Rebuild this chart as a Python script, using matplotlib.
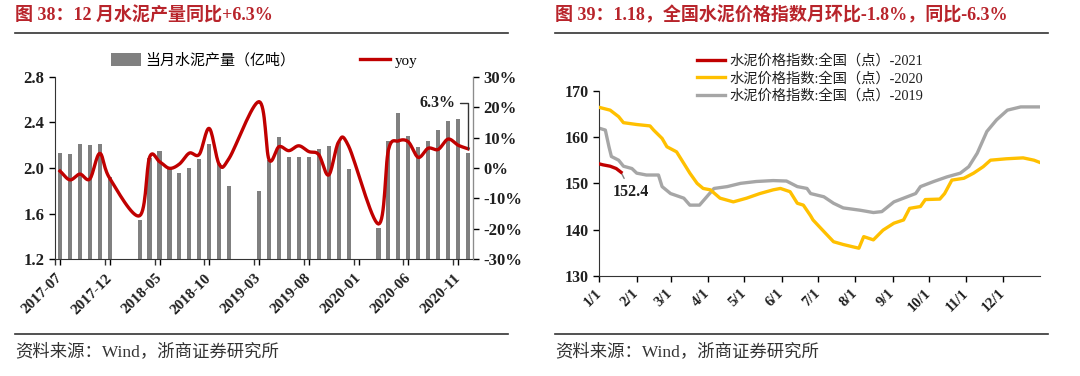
"""Cement output (monthly, yoy) and national cement price index, two-panel report chart."""

import matplotlib

matplotlib.use("Agg")
import matplotlib.pyplot as plt
import numpy as np
from matplotlib.lines import Line2D

SERIF_CJK = ["Liberation Serif", "Noto Sans CJK SC", "DejaVu Sans"]
plt.rcParams["font.family"] = SERIF_CJK

W, H = 1080, 376

# ---- left panel data: monthly cement output (亿吨) and yoy (%) ----
MONTHS = [
    "2017-07", "2017-08", "2017-09", "2017-10", "2017-11", "2017-12",
    "2018-01", "2018-02", "2018-03", "2018-04", "2018-05", "2018-06",
    "2018-07", "2018-08", "2018-09", "2018-10", "2018-11", "2018-12",
    "2019-01", "2019-02", "2019-03", "2019-04", "2019-05", "2019-06",
    "2019-07", "2019-08", "2019-09", "2019-10", "2019-11", "2019-12",
    "2020-01", "2020-02", "2020-03", "2020-04", "2020-05", "2020-06",
    "2020-07", "2020-08", "2020-09", "2020-10", "2020-11", "2020-12",
]
nan = float("nan")
OUTPUT = [
    2.13, 2.12, 2.21, 2.20, 2.21, 1.92,
    nan, nan, 1.54, 2.09, 2.15, 2.00,
    1.96, 2.00, 2.08, 2.21, 2.04, 1.84,
    nan, nan, 1.80, 2.07, 2.27, 2.10,
    2.10, 2.10, 2.17, 2.19, 2.23, 1.99,
    nan, nan, 1.47, 2.24, 2.48, 2.28,
    2.18, 2.24, 2.33, 2.41, 2.43, 2.13,
]
YOY = [
    -1.0, -3.9, -2.0, -3.6, 4.8, -3.4,
    nan, nan, -15.7, 3.5, 2.1, -0.1,
    1.3, 4.9, 4.5, 13.0, 1.2, 3.2,
    nan, nan, 21.8, 2.8, 7.0, 5.7,
    7.3, 5.4, 4.4, -2.3, 8.6, 7.2,
    nan, nan, -18.4, 5.9, 8.9, 8.6,
    3.5, 6.5, 6.1, 9.5, 7.5, 6.3,
]

# ---- right panel data: national cement price index (points) by day of year ----
DAYS_2021 = [0, 3, 9, 14, 18]
PRICE_2021 = [154.2, 154.0, 153.7, 153.2, 152.4]

DAYS_2020 = [0, 9, 16, 20, 31, 42, 45, 52, 56, 64, 70, 75, 81, 86, 92, 100, 111,
             122, 133, 144, 150, 158, 164, 169, 175, 177, 186, 194, 202, 210, 215,
             219, 227, 235, 244, 252, 257, 266, 270, 282, 286, 292, 302, 310, 318,
             324, 337, 351, 360, 365]
PRICE_2020 = [166.4, 165.8, 164.4, 163.1, 162.7, 162.4, 161.5, 159.7, 157.9, 156.8,
              154.3, 152.2, 150.0, 148.9, 148.6, 146.8, 146.0, 146.8, 147.8, 148.6,
              148.9, 148.2, 145.7, 145.3, 143.0, 142.1, 139.6, 137.4, 136.8, 136.3,
              136.0, 138.5, 137.8, 139.9, 141.4, 142.1, 144.6, 145.0, 146.5, 146.6,
              147.8, 150.7, 151.1, 152.2, 153.6, 155.0, 155.3, 155.5, 155.0, 154.5]

DAYS_2019 = [0, 5, 8, 10, 16, 20, 27, 31, 39, 49, 52, 59, 70, 75, 83, 89, 95, 106,
             117, 130, 144, 155, 164, 172, 175, 186, 194, 202, 216, 227, 234, 244,
             255, 262, 266, 277, 288, 299, 306, 313, 321, 329, 338, 349, 365]
PRICE_2019 = [161.9, 161.5, 157.9, 155.8, 155.0, 153.7, 153.2, 152.2, 151.8, 151.8,
              149.3, 147.8, 146.8, 145.3, 145.3, 147.1, 148.9, 149.3, 150.0, 150.4,
              150.6, 150.5, 149.3, 148.9, 147.8, 147.1, 145.7, 144.7, 144.2, 143.7,
              143.9, 146.0, 147.1, 147.8, 149.3, 150.4, 151.4, 152.2, 153.6, 156.5,
              161.2, 163.7, 165.8, 166.5, 166.5]

MONTH_START_DAYS = [0, 31, 59, 90, 120, 151, 181, 212, 243, 273, 304, 334]
MONTH_LABELS = [f"{m}/1" for m in range(1, 13)]

RED = "#C00000"
BAR_GRAY = "#808080"
LINE_GRAY = "#A6A6A6"
YELLOW = "#FFC000"
TITLE_RED = "#B8242B"
TEXT = "#1f1f1f"


def catmull_rom(x, y, n=16):
    """Smoothed path through the points (Excel-style smoothed line)."""
    x = np.asarray(x, float)
    y = np.asarray(y, float)
    px = np.concatenate([[2 * x[0] - x[1]], x, [2 * x[-1] - x[-2]]])
    py = np.concatenate([[2 * y[0] - y[1]], y, [2 * y[-1] - y[-2]]])
    t = np.linspace(0, 1, n, endpoint=False)
    xs, ys = [], []
    for i in range(1, len(px) - 2):
        for p, out in ((px, xs), (py, ys)):
            p0, p1, p2, p3 = p[i - 1], p[i], p[i + 1], p[i + 2]
            out.append(0.5 * (2 * p1 + (p2 - p0) * t
                              + (2 * p0 - 5 * p1 + 4 * p2 - p3) * t ** 2
                              + (3 * p1 - p0 - 3 * p2 + p3) * t ** 3))
    xs.append([x[-1]])
    ys.append([y[-1]])
    return np.concatenate(xs), np.concatenate(ys)


def px_axes(left, top, right, bottom):
    return [left / W, 1 - bottom / H, (right - left) / W, (bottom - top) / H]


def frame(x0, x1, title):
    fig.text(x0 / W, 1 - 15 / H, title, color=TITLE_RED, fontsize=13,
             fontweight="bold", va="center", ha="left")
    for y in (32.5, 333.5):
        fig.add_artist(Line2D([x0 / W, x1 / W], [1 - y / H] * 2, color="#333333", lw=1.2))
    fig.text(x0 / W, 1 - 352 / H, "资料来源：Wind，浙商证券研究所", color="#333333",
             fontsize=12.5, va="center", ha="left")


fig = plt.figure(figsize=(W / 100, H / 100), dpi=100)

# ---------------- left panel ----------------
frame(15, 508, "图 38：12 月水泥产量同比+6.3%")

idx = np.arange(len(MONTHS))
ax1 = fig.add_axes(px_axes(55, 76.7, 473, 259.3))
ax1.bar(idx, OUTPUT, width=0.42, color=BAR_GRAY, label="当月水泥产量（亿吨）", zorder=2)
ax1.set_xlim(-0.5, len(MONTHS) - 0.5)
ax1.set_ylim(1.2, 2.8)
ax1.set_yticks(np.arange(1.2, 2.81, 0.4))
ax1.set_yticklabels([f"{v:.1f}" for v in np.arange(1.2, 2.81, 0.4)])
ax1.set_xticks(idx[::5])
ax1.set_xticklabels(MONTHS[::5], rotation=45, ha="right", va="center", rotation_mode="anchor")
ax1.set_xticks(idx[::5] - 0.5, minor=True)
ax1.tick_params(axis="x", which="major", length=0, pad=8)
ax1.tick_params(axis="x", which="minor", length=4, width=1, color="#333333")

ax2 = ax1.twinx()
valid = ~np.isnan(np.asarray(YOY))
sx, sy = catmull_rom(idx[valid], np.asarray(YOY)[valid])
ax2.plot(sx, sy, color=RED, lw=2.4, label="yoy", zorder=3)
ax2.set_ylim(-30, 30)
ax2.set_yticks(np.arange(-30, 31, 10))
ax2.set_yticklabels([f"{v}%" for v in range(-30, 31, 10)])
ax2.annotate(f"{YOY[-1]:.1f}%", xy=(idx[-1], YOY[-1]), xytext=(-22, 33),
             textcoords="offset points", ha="center", va="center", fontsize=11.5,
             fontweight="bold", color=TEXT,
             arrowprops=dict(arrowstyle="-", color="#333333", lw=1,
                             connectionstyle="angle,angleA=0,angleB=90,rad=0",
                             shrinkA=1, shrinkB=0))

for a in (ax1, ax2):
    a.spines["top"].set_visible(False)
    a.tick_params(labelsize=12, labelcolor=TEXT, width=1, length=4)
    for lab in a.get_xticklabels() + a.get_yticklabels():
        lab.set_fontweight("bold")
ax1.spines["left"].set_color("#333333")
ax1.spines["bottom"].set_color("#333333")
ax2.spines["right"].set_color("#8c8c8c")
ax2.spines["left"].set_visible(False)
ax2.spines["bottom"].set_visible(False)
ax1.tick_params(axis="x", labelsize=11)

h1, l1 = ax1.get_legend_handles_labels()
h2, l2 = ax2.get_legend_handles_labels()
ax1.legend(h1 + h2, l1 + l2, ncol=2, loc="lower center", bbox_to_anchor=(0.5, 1.0),
           frameon=False, fontsize=10.8, handlelength=2.0, handleheight=0.9,
           columnspacing=4.3, handletextpad=0.3, borderpad=0.1)

# ---------------- right panel ----------------
frame(555, 1048, "图 39：1.18，全国水泥价格指数月环比-1.8%，同比-6.3%")

ax3 = fig.add_axes(px_axes(599.3, 90.7, 1040, 276))
ax3.plot(DAYS_2021, PRICE_2021, color=RED, lw=2.4, label="水泥价格指数:全国（点）-2021", zorder=4)
ax3.plot(DAYS_2020, PRICE_2020, color=YELLOW, lw=2.4, label="水泥价格指数:全国（点）-2020", zorder=3)
ax3.plot(DAYS_2019, PRICE_2019, color=LINE_GRAY, lw=2.4, label="水泥价格指数:全国（点）-2019", zorder=2)
ax3.set_xlim(0, 365)
ax3.set_ylim(130, 170)
ax3.set_yticks(range(130, 171, 10))
ax3.set_xticks(MONTH_START_DAYS)
ax3.set_xticklabels(MONTH_LABELS, rotation=45, ha="right", va="center", rotation_mode="anchor")
ax3.tick_params(axis="x", pad=7)
ax3.tick_params(labelsize=11.5, labelcolor=TEXT, width=1, length=4)
ax3.tick_params(axis="x", labelsize=10.5)
for lab in ax3.get_xticklabels() + ax3.get_yticklabels():
    lab.set_fontweight("bold")
for side in ("top", "right"):
    ax3.spines[side].set_visible(False)
ax3.spines["left"].set_color("#333333")
ax3.spines["bottom"].set_color("#333333")
ax3.annotate(f"{PRICE_2021[-1]:.1f}", xy=(DAYS_2021[-1], PRICE_2021[-1]), xytext=(7, -14),
             textcoords="offset points", ha="center", va="center", fontsize=11.5,
             fontweight="bold", color=TEXT,
             arrowprops=dict(arrowstyle="-", color="#7f7f7f", lw=1, shrinkA=2, shrinkB=1))
ax3.legend(loc="upper left", bbox_to_anchor=(0.205, 1.235), frameon=False, fontsize=10.3,
           handlelength=2.0, handletextpad=0.3, labelspacing=0.25, borderpad=0,
           labelcolor=TEXT)

fig.savefig("out.png", dpi=100)
